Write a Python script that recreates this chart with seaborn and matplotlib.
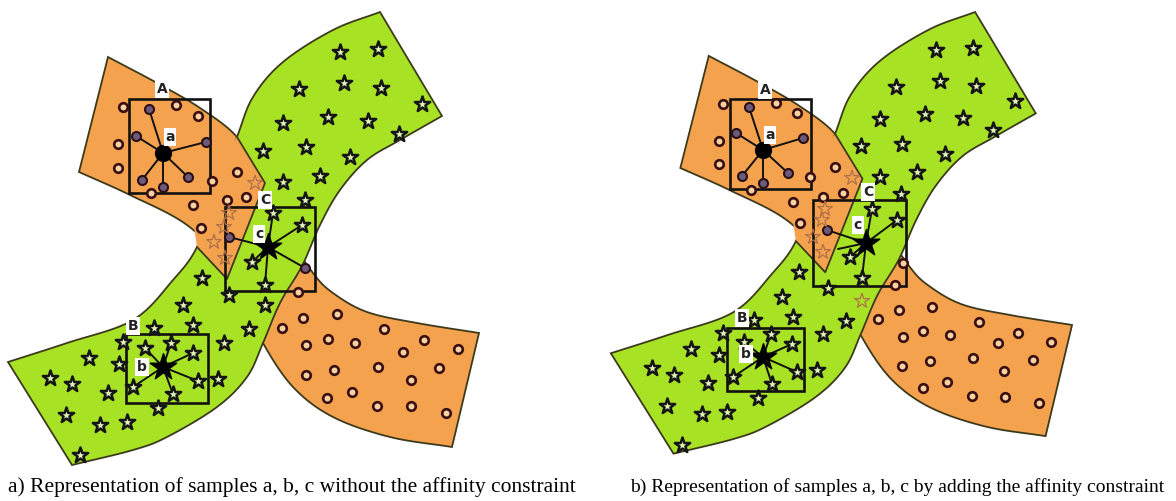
import numpy as np
import pandas as pd
import matplotlib
matplotlib.use("Agg")
import matplotlib.pyplot as plt
from matplotlib.patches import Polygon, Rectangle
import seaborn as sns

sns.set_theme(style="white")

# ---- shape outlines of panel a (pixel coords), panel b is a shifted copy
orange_top = [(108, 57), (157, 83), (200, 108), (237, 137), (262, 178), (285, 230),
              (313, 273), (333, 293), (367, 312), (417, 323), (479, 333)]
orange_bottom = [(79, 172), (130, 195), (187, 225), (225, 265), (250, 310), (263, 343),
                 (293, 387), (333, 417), (390, 437), (452, 447)]
green_outer = [(380, 12), (333, 30), (283, 62), (253, 97), (237, 137), (215, 195),
               (197, 247), (173, 280), (133, 320), (67, 343), (8, 362)]
green_inner = [(442, 116), (400, 140), (367, 160), (340, 190), (320, 225), (302, 266),
               (280, 303), (263, 343), (247, 377), (217, 407), (167, 437), (133, 450), (72, 465)]
wedge = [(237, 137), (265, 183), (227, 279), (197, 247), (190, 200)]

# ---- panel a samples
stars_a = [(340, 52), (378, 49), (299, 89), (344, 83), (381, 88), (422, 104), (283, 123),
           (328, 117), (368, 121), (399, 134), (263, 151), (306, 147), (350, 157), (283, 182),
           (320, 176), (305, 200), (202, 278), (229, 295), (265, 305), (183, 305), (193, 325),
           (249, 329), (154, 328), (224, 343), (123, 342), (119, 364), (89, 358), (218, 379),
           (50, 378), (72, 384), (108, 393), (66, 415), (100, 425), (127, 422), (158, 408),
           (80, 455)]
circles_a = [(123, 107), (176, 105), (198, 116), (118, 144), (118, 168), (212, 181), (151, 193),
             (237, 172), (227, 200), (193, 205), (246, 197), (201, 228), (298, 292),
             (282, 328), (303, 318), (337, 314), (306, 345), (328, 339), (355, 343), (384, 329),
             (424, 340), (403, 352), (458, 349), (306, 375), (334, 370), (378, 367), (439, 368),
             (411, 380), (327, 398), (352, 392), (377, 406), (411, 406), (446, 413)]
pale_a = [(255, 183), (229, 213), (224, 227), (214, 242), (225, 258)]
spokeA_a = [(149, 109), (136, 136), (206, 142), (142, 180), (163, 187), (188, 177)]
spokeB_a = [(145, 348), (171, 343), (193, 353), (198, 381), (173, 394), (133, 387)]
spokeC_stars_a = [(273, 213), (302, 225), (252, 262), (265, 285)]
spokeC_circles_a = [(229, 237), (305, 268)]
boxes_a = {"A": (129, 99, 210, 193), "B": (126, 334, 208, 403), "C": (225, 207, 315, 291)}
centers_a = {"a": (163, 153), "b": (163, 367), "c": (268, 247)}
labels_a = {"A": (162, 89), "a": (170, 137), "B": (133, 326), "b": (142, 367),
            "C": (265, 200), "c": (259, 234)}

# ---- panel b samples
stars_b = [(936, 50), (973, 48), (896, 87), (940, 81), (976, 86), (1015, 101), (880, 119),
           (925, 114), (963, 118), (993, 130), (861, 146), (902, 144), (945, 154), (880, 177),
           (917, 172), (901, 194), (799, 272), (828, 288), (782, 297), (793, 317), (846, 321),
           (754, 320), (823, 334), (723, 333), (719, 355), (691, 349), (817, 370), (652, 368),
           (674, 375), (708, 383), (667, 406), (702, 414), (727, 412), (758, 398), (682, 445)]
circles_b = [(723, 104), (776, 103), (797, 113), (719, 141), (719, 164), (810, 177), (751, 190),
             (835, 167), (843, 193), (823, 197), (793, 202), (800, 223), (903, 263), (895, 285),
             (878, 319), (899, 310), (932, 307), (903, 337), (923, 331), (950, 335), (979, 322),
             (1018, 333), (998, 343), (1051, 342), (902, 366), (930, 361), (973, 358),
             (1033, 360), (1004, 371), (923, 388), (947, 382), (972, 396), (1005, 397),
             (1039, 403)]
pale_b = [(852, 178), (825, 209), (822, 220), (813, 237), (823, 252), (862, 301)]
spokeA_b = [(749, 107), (736, 133), (803, 138), (742, 176), (763, 183), (788, 173)]
spokeB_b = [(744, 342), (771, 334), (792, 344), (797, 372), (772, 384), (733, 377)]
spokeC_stars_b = [(872, 209), (897, 220), (850, 257), (862, 278)]
spokeC_circles_b = [(827, 230)]
spokeC_extra_b = [(838, 249)]
boxes_b = {"A": (730, 99, 811, 189), "B": (727, 328, 804, 391), "C": (813, 200, 906, 286)}
centers_b = {"a": (763, 150), "b": (763, 357), "c": (866, 243)}
labels_b = {"A": (765, 90), "a": (770, 135), "B": (742, 318), "b": (746, 354),
            "C": (868, 192), "c": (858, 225)}

captions = ["a) Representation of samples a, b, c without the affinity constraint",
            "b) Representation of samples a, b, c by adding the affinity constraint"]

ORANGE = "#F4A24E"
GREEN = "#A8E224"
EDGE = "#3d3a1c"


def smooth(pts, n=14):
    pts = np.asarray(pts, float)
    p = np.vstack([2 * pts[0] - pts[1], pts, 2 * pts[-1] - pts[-2]])
    t = np.linspace(0, 1, n, endpoint=False)[:, None]
    out = []
    for i in range(1, len(p) - 2):
        p0, p1, p2, p3 = p[i - 1], p[i], p[i + 1], p[i + 2]
        out.append(0.5 * (2 * p1 + (-p0 + p2) * t + (2 * p0 - 5 * p1 + 4 * p2 - p3) * t ** 2
                          + (-p0 + 3 * p1 - 3 * p2 + p3) * t ** 3))
    out.append(pts[-1:])
    return np.vstack(out)


def shift_b(pts):
    pts = np.asarray(pts, float)
    return np.column_stack([pts[:, 0] + 593 + 10 * (1 - pts[:, 0] / 480),
                            12 + (pts[:, 1] - 12) * 0.975])


def draw_panel(ax, shift, stars, circles, pale, spA, spB, spCs, spCc, spCx,
               boxes, centers, labels):
    orange = np.vstack([smooth(orange_top), smooth(orange_bottom)[::-1]])
    green = np.vstack([smooth(green_outer), smooth(green_inner)[::-1]])
    wdg = np.asarray(wedge, float)
    if shift:
        orange, green, wdg = shift_b(orange), shift_b(green), shift_b(wdg)
    ax.add_patch(Polygon(orange, closed=True, fc=ORANGE, ec=EDGE, lw=1.3, zorder=1))
    ax.add_patch(Polygon(green, closed=True, fc=GREEN, ec=EDGE, lw=1.3, zorder=2))
    ax.add_patch(Polygon(wdg, closed=True, fc=ORANGE, ec="none", zorder=3))
    ax.plot(wdg[:4, 0], wdg[:4, 1], color=EDGE, lw=1.3, zorder=3)

    # spokes
    for (cx, cy), ends in [(centers["a"], spA), (centers["b"], spB),
                           (centers["c"], spCs + spCc + spCx)]:
        for ex, ey in ends:
            ax.plot([cx, ex], [cy, ey], color="#111111", lw=1.4, zorder=4)

    for key, (x0, y0, x1, y1) in boxes.items():
        ax.add_patch(Rectangle((x0, y0), x1 - x0, y1 - y0, fill=False,
                               ec="#111111", lw=1.9, zorder=5))

    df_star = pd.DataFrame(stars + spB + spCs, columns=["x", "y"])
    df_circ = pd.DataFrame(circles, columns=["x", "y"])
    df_spc = pd.DataFrame(spA + spCc, columns=["x", "y"])
    df_pale = pd.DataFrame(pale, columns=["x", "y"])
    sns.scatterplot(data=df_star, x="x", y="y", marker="*", s=135, color="#dff3b8",
                    edgecolor="#151515", linewidth=1.8, ax=ax, zorder=6)
    sns.scatterplot(data=df_circ, x="x", y="y", marker="o", s=38, color="#f9d2a0",
                    edgecolor="#3a0f12", linewidth=1.9, ax=ax, zorder=6)
    sns.scatterplot(data=df_spc, x="x", y="y", marker="o", s=42, color="#6c5a78",
                    edgecolor="#2a0f18", linewidth=1.5, ax=ax, zorder=6)
    sns.scatterplot(data=df_pale, x="x", y="y", marker="*", s=125, color="none",
                    edgecolor="#b0714a", linewidth=0.9, ax=ax, zorder=6)

    ax.scatter(*centers["a"], marker="o", s=130, color="black", zorder=7)
    ax.scatter(*centers["b"], marker="*", s=400, color="black", zorder=7)
    ax.scatter(*centers["c"], marker="*", s=400, color="black", zorder=7)

    for txt, (x, y) in labels.items():
        ax.text(x, y, txt, ha="center", va="center", fontsize=10, fontweight="bold",
                color="#222222", zorder=8,
                bbox=dict(boxstyle="square,pad=0.12", fc="white", ec="none"))


fig = plt.figure(figsize=(11.76, 5.01), dpi=100)
ax = fig.add_axes([0, 0, 1, 1])
ax.set_xlim(0, 1176)
ax.set_ylim(501, 0)
ax.axis("off")

draw_panel(ax, False, stars_a, circles_a, pale_a, spokeA_a, spokeB_a, spokeC_stars_a,
           spokeC_circles_a, [], boxes_a, centers_a, labels_a)
draw_panel(ax, True, stars_b, circles_b, pale_b, spokeA_b, spokeB_b, spokeC_stars_b,
           spokeC_circles_b, spokeC_extra_b, boxes_b, centers_b, labels_b)

plt.rcParams["font.family"] = ["Liberation Serif", "DejaVu Serif"]
ax.text(8, 487, captions[0], ha="left", va="center", fontsize=15.5,
        family=["Liberation Serif", "DejaVu Serif"], color="black")
ax.text(1164, 487, captions[1], ha="right", va="center", fontsize=14,
        family=["Liberation Serif", "DejaVu Serif"], color="black")

fig.savefig("out.png", dpi=100)
